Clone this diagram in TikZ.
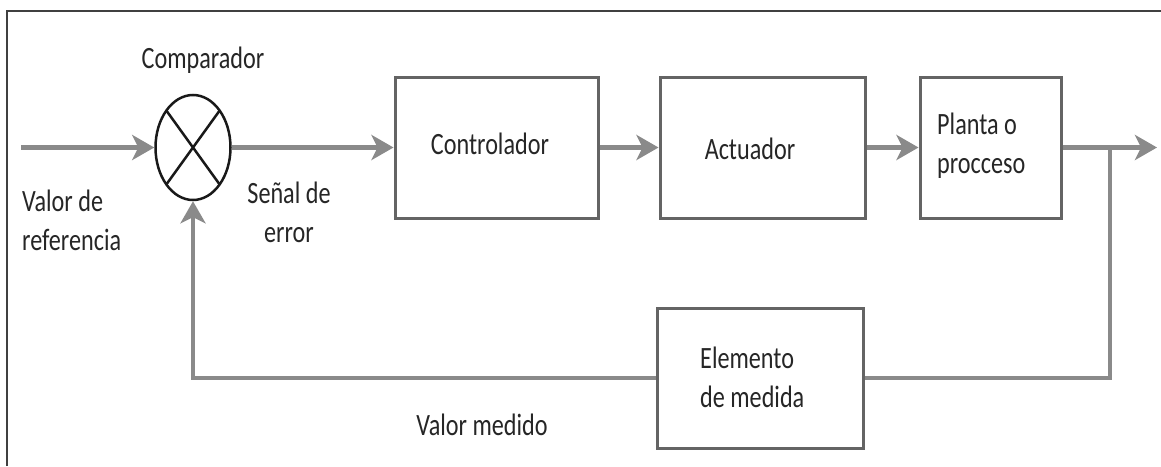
\documentclass[tikz,border=0pt]{standalone}
\usepackage{fontspec}
\setmainfont{Carlito}[FakeStretch=0.78]
\usetikzlibrary{shapes.geometric,arrows.meta}
\definecolor{linegray}{HTML}{8A8A8A}
\definecolor{boxgray}{HTML}{646464}
\definecolor{txtgray}{HTML}{262626}
\definecolor{framegray}{HTML}{404040}
\begin{document}
\begin{tikzpicture}[x=1pt,y=-1pt,
  conn/.style={draw=linegray, line width=4.5pt},
  arr/.style={conn, -{Stealth[length=22pt,width=25pt,inset=6pt]}},
  blockbox/.style={draw=boxgray, line width=3pt, inner sep=0pt},
  txt/.style={text=txtgray, font=\fontsize{31}{39}\selectfont, inner sep=0pt}
]
\useasboundingbox (0,0) rectangle (1161,466);
\fill[white] (0,0) rectangle (1161,466);
\draw[framegray, line width=2.5pt] (7,466) -- (7,11) -- (1161,11);

% comparator
\node[draw=black!90, line width=2.5pt, ellipse, minimum width=75pt, minimum height=105pt, inner sep=0pt] (cmp) at (193,147.5) {};
\draw[black!90, line width=2.5pt, shorten >=1.5pt, shorten <=1.5pt] (cmp.north east) -- (cmp.south west);
\draw[black!90, line width=2.5pt, shorten >=1.5pt, shorten <=1.5pt] (cmp.north west) -- (cmp.south east);

% blocks
\node[blockbox, minimum width=203pt, minimum height=141pt] (ctrl) at (496.5,147.5) {};
\node[blockbox, minimum width=205pt, minimum height=141pt] (act) at (762.5,147.5) {};
\node[blockbox, minimum width=141pt, minimum height=141pt] (plant) at (990.5,147.5) {};
\node[blockbox, minimum width=206pt, minimum height=140pt] (meas) at (760,378) {};

% connectors
\coordinate (in) at (21,147.5);
\coordinate (out) at (1157,147.5);
\coordinate (br) at (1110,147.5);
\draw[arr] (in) -- (cmp.west);
\draw[arr] (cmp.east) -- (ctrl.west);
\draw[arr] (ctrl.east) -- (act.west);
\draw[arr] (act.east) -- (plant.west);
\draw[arr] (plant.east) -- (out);
\draw[conn] (br) |- (meas.east);
\draw[arr] (meas.west) -| (cmp.south);

% texts
\node[txt, anchor=base] (tcmp) at (203,68) {Comparador};
\node[txt, align=left, anchor=west] (tref) at (22,220) {Valor de\\referencia};
\node[txt, align=center] (terr) at (289,212) {Señal de\\error};
\node[txt] (tctrl) at (490,144) {Controlador};
\node[txt] (tact) at (750,149) {Actuador};
\node[txt, align=left, anchor=west] (tplant) at (937,146) {Planta o\\procceso};
\node[txt, align=left, anchor=west] (tmeas) at (700,377) {Elemento\\de medida};
\node[txt] (tval) at (482,425) {Valor medido};
\end{tikzpicture}
\end{document}
